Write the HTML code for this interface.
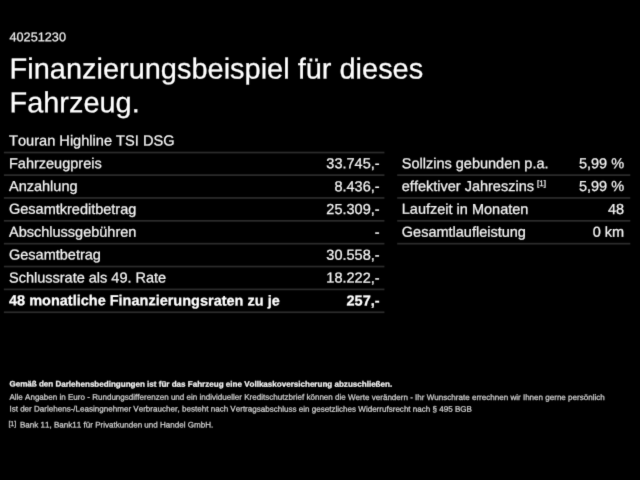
<!DOCTYPE html>
<html lang="de">
<head>
<meta charset="utf-8">
<title>Finanzierungsbeispiel</title>
<style>
html,body{margin:0;padding:0;background:#000;}
body{font-kerning:none;width:640px;height:480px;overflow:hidden;position:relative;color:#fff;font-family:"Liberation Sans",Arial,sans-serif;}
.abs,.row{position:absolute;left:0;top:0;white-space:nowrap;transform-origin:0 0;-webkit-text-stroke:0.25px currentColor;}
#lines{position:absolute;left:0;top:0;}
#wrap{position:absolute;left:0;top:0;width:640px;height:480px;background:#000;overflow:hidden;filter:url(#soft);}
.row{height:22px;font-size:14.5px;line-height:22px;color:#f4f4f4;}
.row .l{position:absolute;left:0;top:0;}
.row .r{position:absolute;right:0;top:0;text-align:right;}
.row.b{font-weight:bold;color:#fff;}
.fn{font-size:8px;position:relative;top:-5.5px;left:-1px;}
.ft{font-size:8.05px;line-height:12px;color:#d2d2d2;}
.ft.b{font-weight:bold;color:#f4f4f4;}
</style>
</head>
<body>
<svg width="0" height="0" style="position:absolute"><defs><filter id="soft" x="0" y="0" width="100%" height="100%" color-interpolation-filters="sRGB"><feConvolveMatrix order="3" kernelMatrix="0.0100 0.0800 0.0100 0.0800 0.6400 0.0800 0.0100 0.0800 0.0100" divisor="1" edgeMode="duplicate" preserveAlpha="true"/></filter></defs></svg>
<div id="wrap">
<svg id="lines" width="640" height="480" viewBox="0 0 640 480">
  <g fill="#2c2c2c">
    <rect x="3.9" y="151.70" width="380.5" height="1.7"/>
    <rect x="3.9" y="174.26" width="380.5" height="1.7"/>
    <rect x="3.9" y="197.11" width="380.5" height="1.7"/>
    <rect x="3.9" y="219.97" width="380.5" height="1.7"/>
    <rect x="3.9" y="242.83" width="380.5" height="1.7"/>
    <rect x="3.9" y="265.69" width="380.5" height="1.7"/>
    <rect x="3.9" y="288.54" width="380.5" height="1.7"/>
    <rect x="3.9" y="311.40" width="380.5" height="1.7"/>
    <rect x="397.2" y="174.26" width="233.1" height="1.7"/>
    <rect x="397.2" y="197.11" width="233.1" height="1.7"/>
    <rect x="397.2" y="219.97" width="233.1" height="1.7"/>
    <rect x="397.2" y="242.83" width="233.1" height="1.7"/>
  </g>
</svg>
<div class="abs" style="transform:translate(9.50px,29.30px) rotate(0.03deg);font-size:12.7px;line-height:16px;color:#ececec">40251230</div>
<div class="abs" style="transform:translate(9.60px,52.40px) rotate(0.03deg);font-size:28.96px;line-height:33px;color:#fff">Finanzierungsbeispiel für dieses</div>
<div class="abs" style="transform:translate(9.60px,86.15px) rotate(0.03deg);font-size:28.9px;line-height:33px;color:#fff">Fahrzeug.</div>
<div class="abs" style="transform:translate(9.05px,130.50px) rotate(0.03deg);font-size:14.6px;line-height:20px;color:#f4f4f4">Touran Highline TSI DSG</div>
<div class="row" style="width:370.6px;transform:translate(9.00px,152.15px) rotate(0.03deg)"><span class="l">Fahrzeugpreis</span><span class="r">33.745,-</span></div>
<div class="row" style="width:370.6px;transform:translate(9.00px,175.01px) rotate(0.03deg)"><span class="l">Anzahlung</span><span class="r">8.436,-</span></div>
<div class="row" style="width:370.6px;transform:translate(9.00px,197.86px) rotate(0.03deg)"><span class="l">Gesamtkreditbetrag</span><span class="r">25.309,-</span></div>
<div class="row" style="width:370.6px;transform:translate(9.00px,220.72px) rotate(0.03deg)"><span class="l">Abschlussgebühren</span><span class="r">-</span></div>
<div class="row" style="width:370.6px;transform:translate(9.00px,243.58px) rotate(0.03deg)"><span class="l">Gesamtbetrag</span><span class="r">30.558,-</span></div>
<div class="row" style="width:370.6px;transform:translate(9.00px,266.44px) rotate(0.03deg)"><span class="l">Schlussrate als 49. Rate</span><span class="r">18.222,-</span></div>
<div class="row b" style="width:370.6px;transform:translate(9.00px,289.29px) rotate(0.03deg)"><span class="l">48 monatliche Finanzierungsraten zu je</span><span class="r">257,-</span></div>
<div class="row" style="width:222.3px;transform:translate(401.80px,152.15px) rotate(0.03deg)"><span class="l">Sollzins gebunden p.a.</span><span class="r">5,99 %</span></div>
<div class="row" style="width:222.3px;transform:translate(401.80px,175.01px) rotate(0.03deg)"><span class="l">effektiver Jahreszins <span class="fn">[1]</span></span><span class="r">5,99 %</span></div>
<div class="row" style="width:222.3px;transform:translate(401.80px,197.86px) rotate(0.03deg)"><span class="l">Laufzeit in Monaten</span><span class="r">48</span></div>
<div class="row" style="width:222.3px;transform:translate(401.80px,220.72px) rotate(0.03deg)"><span class="l">Gesamtlaufleistung</span><span class="r">0 km</span></div>
<div class="abs ft b" style="transform:translate(9.40px,378.60px) rotate(0.03deg)">Gemäß den Darlehensbedingungen ist für das Fahrzeug eine Vollkaskoversicherung abzuschließen.</div>
<div class="abs ft" style="transform:translate(9.40px,391.70px) rotate(0.03deg)">Alle Angaben in Euro - Rundungsdifferenzen und ein individueller Kreditschutzbrief können die Werte verändern - Ihr Wunschrate errechnen wir Ihnen gerne persönlich</div>
<div class="abs ft" style="transform:translate(9.40px,403.50px) rotate(0.03deg)">Ist der Darlehens-/Leasingnehmer Verbraucher, besteht nach Vertragsabschluss ein gesetzliches Widerrufsrecht nach § 495 BGB</div>
<div class="abs ft" style="transform:translate(8.40px,417.90px) rotate(0.03deg);font-size:7px">[1]</div>
<div class="abs ft" style="transform:translate(20.00px,419.40px) rotate(0.03deg)">Bank 11, Bank11 für Privatkunden und Handel GmbH.</div>
</div>
</body>
</html>
